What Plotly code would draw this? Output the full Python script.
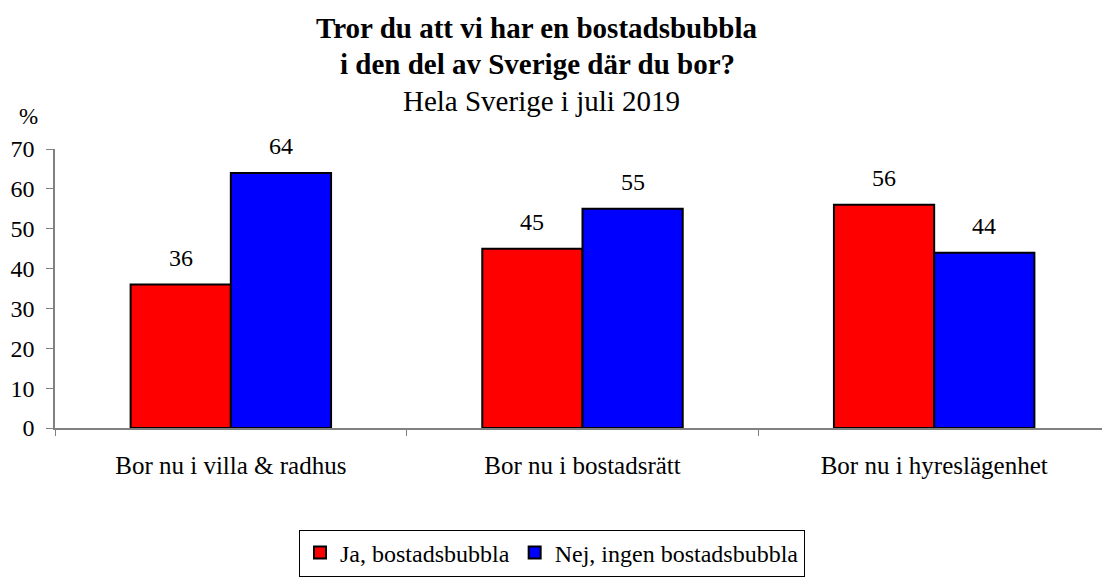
import plotly.graph_objects as go

categories = ["Bor nu i villa & radhus", "Bor nu i bostadsrätt", "Bor nu i hyreslägenhet"]
ja_values = [36, 45, 56]
nej_values = [64, 55, 44]
series_names = ["Ja, bostadsbubbla", "Nej, ingen bostadsbubbla"]
y_ticks = [0, 10, 20, 30, 40, 50, 60, 70]
title_lines = ["Tror du att vi har en bostadsbubbla", "i den del av Sverige där du bor?"]
subtitle = "Hela Sverige i juli 2019"

FONT = "Times New Roman, Liberation Serif, Tinos, DejaVu Serif, serif"
PAGE_OFF = 8  # default body margin of the page
W, H = 1110 - PAGE_OFF, 579 - PAGE_OFF
ML, MR, MT, MB = 55 - PAGE_OFF, 0, 149 - PAGE_OFF, 151
BARGAP = 0.43

plot_w = W - ML - MR
cat_w = plot_w / len(categories)
half_bar = (1 - BARGAP) * cat_w / 4

fig = go.Figure()
fig.add_trace(go.Bar(
    x=categories, y=ja_values, name=series_names[0],
    marker=dict(color="#FF0000", line=dict(color="black", width=2)),
))
fig.add_trace(go.Bar(
    x=categories, y=nej_values, name=series_names[1],
    marker=dict(color="#0000FF", line=dict(color="black", width=2)),
))

annotations = []
for vals, shift in ((ja_values, -half_bar), (nej_values, half_bar)):
    for c, v in zip(categories, vals):
        annotations.append(dict(
            x=c, y=v, xref="x", yref="y", text=str(v), showarrow=False,
            xanchor="center", yanchor="bottom", xshift=shift, yshift=12,
            font=dict(family=FONT, size=24, color="black"),
        ))

ph = H - MT - MB
def py(screen_px):
    return (H - MB - (screen_px - PAGE_OFF)) / ph

def px(screen_px):
    return (screen_px - PAGE_OFF - ML) / plot_w

annotations += [
    dict(text=f"<b>{title_lines[0]}</b>", xref="paper", yref="paper", x=px(537), y=py(28),
         xanchor="center", yanchor="middle", showarrow=False,
         font=dict(family=FONT, size=29, color="black")),
    dict(text=f"<b>{title_lines[1]}</b>", xref="paper", yref="paper", x=px(537), y=py(64.5),
         xanchor="center", yanchor="middle", showarrow=False,
         font=dict(family=FONT, size=29, color="black")),
    dict(text=subtitle, xref="paper", yref="paper", x=px(541), y=py(100.5),
         xanchor="center", yanchor="middle", showarrow=False,
         font=dict(family=FONT, size=29, color="black")),
    dict(text="%", xref="paper", yref="paper", x=px(28), y=py(116),
         xanchor="center", yanchor="middle", showarrow=False,
         font=dict(family=FONT, size=23, color="black")),
]

fig.update_layout(
    width=W, height=H,
    margin=dict(l=ML, r=MR, t=MT, b=MB, autoexpand=False),
    paper_bgcolor="white", plot_bgcolor="white",
    barmode="group", bargap=BARGAP, bargroupgap=0,
    font=dict(family=FONT, size=22, color="black"),
    showlegend=True,
    legend=dict(
        orientation="h", x=px(552), xanchor="center", y=py(553), yanchor="middle",
        bordercolor="black", borderwidth=1, bgcolor="white",
        font=dict(family=FONT, size=24, color="black"),
        itemwidth=30, tracegroupgap=0,
    ),
    xaxis=dict(
        showline=True, linecolor="#808080", linewidth=1.5,
        ticks="outside", tickson="boundaries", ticklen=6, tickcolor="#808080",
        showgrid=False, ticklabelstandoff=14, automargin=False,
        tickfont=dict(family=FONT, size=25, color="black"),
    ),
    yaxis=dict(
        range=[0, 70], tickvals=y_ticks,
        showline=True, linecolor="#808080", linewidth=1.5,
        ticks="outside", ticklen=7, tickcolor="#808080",
        showgrid=False, zeroline=False, automargin=False, ticklabelstandoff=7,
        tickfont=dict(family=FONT, size=24, color="black"),
    ),
    annotations=annotations,
)

fig.write_html("out.html")
